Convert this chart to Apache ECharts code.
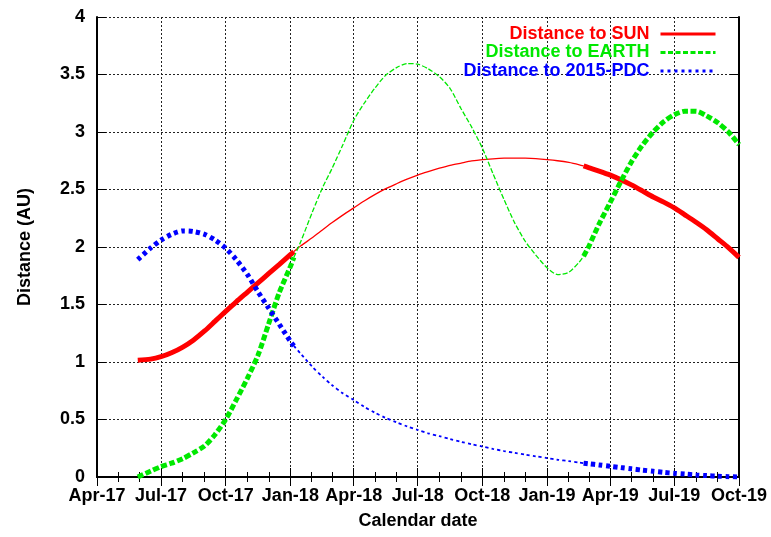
<!DOCTYPE html>
<html>
<head>
<meta charset="utf-8">
<script src="https://cdn.jsdelivr.net/npm/echarts@6/dist/echarts.min.js"></script>
<style>
html,body{margin:0;padding:0;background:#fff;}
#chart{width:771px;height:537px;}
</style>
</head>
<body>
<div id="chart"></div>
<script>
// ---- data ----
const dates = [
  '2017-05-29','2017-06-16','2017-07-01','2017-07-16','2017-08-01','2017-08-16','2017-09-01','2017-09-16','2017-10-01','2017-10-16','2017-11-01','2017-11-16','2017-12-01','2017-12-16','2018-01-01','2018-01-06',
  '2018-01-16','2018-02-01','2018-02-16','2018-03-01','2018-03-16','2018-04-01','2018-04-16','2018-05-01','2018-05-16','2018-06-01','2018-06-16','2018-07-01','2018-07-16','2018-08-01','2018-08-16','2018-09-01','2018-09-16','2018-10-01','2018-10-16','2018-11-01','2018-11-16','2018-12-01','2018-12-16','2019-01-01','2019-01-16','2019-02-01','2019-02-16','2019-02-22',
  '2019-03-01','2019-03-16','2019-04-01','2019-04-16','2019-05-01','2019-05-16','2019-06-01','2019-06-16','2019-07-01','2019-07-16','2019-08-01','2019-08-16','2019-09-01','2019-09-16','2019-10-01'];
const sunDist = [
  1.015,1.025,1.046,1.08,1.13,1.19,1.27,1.355,1.44,1.523,1.608,1.688,1.768,1.847,1.933,1.96,
  2.01,2.08,2.15,2.21,2.275,2.34,2.40,2.455,2.505,2.55,2.59,2.625,2.655,2.685,2.71,2.73,2.748,2.76,2.767,2.772,2.773,2.772,2.768,2.76,2.75,2.735,2.715,2.705,
  2.69,2.66,2.625,2.585,2.54,2.49,2.435,2.39,2.34,2.28,2.215,2.15,2.07,1.995,1.91];
const earthDist = [
  0.00,0.05,0.09,0.12,0.16,0.21,0.27,0.37,0.50,0.67,0.86,1.06,1.33,1.60,1.83,1.91,
  2.05,2.30,2.52,2.68,2.88,3.10,3.25,3.38,3.49,3.56,3.595,3.59,3.55,3.48,3.38,3.20,3.04,2.86,2.64,2.41,2.21,2.05,1.93,1.82,1.76,1.78,1.87,1.92,
  2.00,2.20,2.39,2.57,2.74,2.88,3.00,3.09,3.15,3.18,3.18,3.14,3.08,3.00,2.89];
const pdcDist = [
  1.89,1.99,2.06,2.11,2.14,2.135,2.11,2.06,1.99,1.89,1.76,1.61,1.47,1.33,1.18,1.14,
  1.07,0.96,0.87,0.80,0.73,0.67,0.61,0.56,0.515,0.475,0.44,0.41,0.38,0.355,0.33,0.305,0.285,0.265,0.245,0.225,0.21,0.195,0.18,0.165,0.15,0.138,0.125,0.12,
  0.115,0.105,0.093,0.082,0.071,0.06,0.05,0.04,0.032,0.025,0.018,0.012,0.007,0.003,0.0];
const thinStart = '2018-01-06';
const thinEnd = '2019-02-22';
const seriesNames = ['Distance to SUN','Distance to EARTH','Distance to 2015-PDC'];
const monthNames = ['Jan','Feb','Mar','Apr','May','Jun','Jul','Aug','Sep','Oct','Nov','Dec'];
const yTicks = ['0','0.5','1','1.5','2','2.5','3','3.5','4'];
const xMin = '2017-04-01', xMax = '2019-10-01';

// ---- styles ----
const colors = ['#ff0000','#00e800','#0000ff'];
const thickDash = ['solid',[6,2.5],[4,3.5]];
const thinDash = ['solid',[5,2],[3,3]];
const thinWidth = [1.3,1.3,1.8];
const legendDash = ['solid',[5,2.5],[3,4]];
const FONT = '"Liberation Sans", Arial, sans-serif';

const i1 = dates.indexOf(thinStart), i2 = dates.indexOf(thinEnd);
function seg(vals, a, b){ return dates.slice(a, b+1).map((d,k)=>[d, vals[a+k]]); }
const allVals = [sunDist, earthDist, pdcDist];
const series = [];
allVals.forEach((vals, s) => {
  const parts = [[0,i1,true],[i1,i2,false],[i2,dates.length-1,true]];
  parts.forEach(([a,b,thick]) => {
    series.push({
      name: seriesNames[s], type:'line', smooth:0.25, showSymbol:false, symbol:'none',
      xAxisIndex:0, yAxisIndex:0, animation:false,
      data: seg(vals,a,b),
      lineStyle:{color:colors[s], width: thick?5:thinWidth[s], type: thick?thickDash[s]:thinDash[s], cap:'butt'},
      itemStyle:{color:colors[s]},
      z: 3 + s
    });
  });
});

const MONTH = 31*24*3600*1000;
function fmtDate(v){ const d = new Date(v); return monthNames[d.getMonth()] + '-' + String(d.getFullYear()).slice(2); }
const xCommon = {
  type:'time', min:xMin, max:xMax, minInterval:3*MONTH, maxInterval:3*MONTH,
  axisLine:{show:true, lineStyle:{color:'#000', width:2}},
  axisTick:{show:true, inside:true, length:9, lineStyle:{color:'#000', width:1}},
  minorTick:{show:true, splitNumber:3, length:5, lineStyle:{color:'#000', width:1}},
  splitLine:{show:false}
};
const yCommon = {
  type:'value', min:0, max:4, interval:0.5,
  axisLine:{show:true, lineStyle:{color:'#000', width:2}},
  axisTick:{show:true, inside:true, length:9, lineStyle:{color:'#000', width:1}},
  splitLine:{show:false}
};

const chart = echarts.init(document.getElementById('chart'), null, {renderer:'canvas'});
chart.setOption({
  animation:false,
  backgroundColor:'#fff',
  grid:{left:97, right:32, top:17, bottom:60, containLabel:false},
  legend:{
    orient:'vertical', right:54, top:25, align:'right', padding:0,
    itemWidth:55, itemHeight:10, itemGap:0.5,
    textStyle:{fontFamily:FONT, fontWeight:'bold', fontSize:18, lineHeight:18, padding:[0,6,0,0]},
    selectedMode:false,
    data: seriesNames.map((n,s)=>({name:n, textStyle:{color:colors[s]},
      itemStyle:{opacity:0, color:'transparent', borderWidth:0},
      lineStyle:{width:3, type: legendDash[s], color:colors[s], cap:'butt', opacity:1}}))
  },
  xAxis:[
    Object.assign({}, xCommon, {
      position:'bottom',
      name:'Calendar date', nameLocation:'middle', nameGap:35,
      nameTextStyle:{fontFamily:FONT, fontWeight:'bold', fontSize:18, color:'#000'},
      axisLabel:{show:true, margin:10, color:'#000', fontFamily:FONT, fontWeight:'bold', fontSize:18, formatter:fmtDate, hideOverlap:false},
      splitLine:{show:true, lineStyle:{color:'#222', width:1, type:[2,2]}}
    }),
    Object.assign({}, xCommon, {position:'top', axisLabel:{show:false}})
  ],
  yAxis:[
    Object.assign({}, yCommon, {
      position:'left',
      name:'Distance (AU)', nameLocation:'middle', nameGap:63, nameRotate:90,
      nameTextStyle:{fontFamily:FONT, fontWeight:'bold', fontSize:18, color:'#000'},
      axisLabel:{show:true, margin:12, color:'#000', fontFamily:FONT, fontWeight:'bold', fontSize:18,
        formatter:(v)=>yTicks[Math.round(v/0.5)]},
      splitLine:{show:true, lineStyle:{color:'#222', width:1, type:[2,2]}}
    }),
    Object.assign({}, yCommon, {position:'right', axisLabel:{show:false}})
  ],
  series: series
});
</script>
</body>
</html>
